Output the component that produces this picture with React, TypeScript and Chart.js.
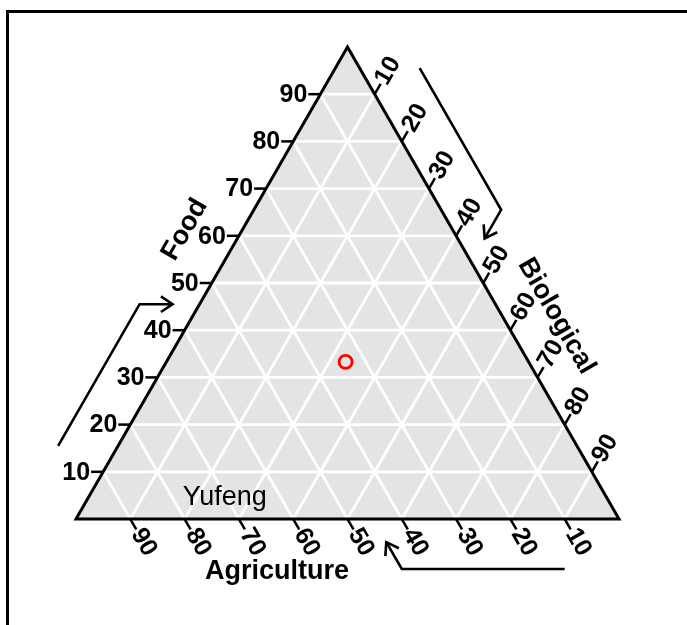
import React, { useEffect, useRef } from "react";
import { Chart, registerables } from "chart.js";

Chart.register(...registerables);

// ---- data ----
const sampleNames = ["Yufeng"];
const agriculture = [33.7];
const biological = [33.0];
const food = [33.3];
const tickValues = [10, 20, 30, 40, 50, 60, 70, 80, 90];
const gridValues = [10, 20, 30, 40, 50, 60, 70, 80, 90];
const titleAgriculture = "Agriculture";
const titleBiological = "Biological";
const titleFood = "Food";

const S3 = Math.sqrt(3) / 2;
const FONT = "'Liberation Sans', Arial, sans-serif";

function tern(a: number, b: number, f: number) {
  const t = a + b + f;
  return { x: ((b + f / 2) / t) * 100, y: (f / t) * 100 * S3 };
}

const ternaryPlugin = {
  id: "ternaryFrame",
  beforeDatasetsDraw(chart: any) {
    const ctx: CanvasRenderingContext2D = chart.ctx;
    const xs = chart.scales.x;
    const ys = chart.scales.y;
    const P = (a: number, b: number, f: number): [number, number] => {
      const p = tern(a, b, f);
      return [xs.getPixelForValue(p.x), ys.getPixelForValue(p.y)];
    };
    ctx.save();

    // outer frame (top + left)
    ctx.strokeStyle = "#000";
    ctx.lineWidth = 3;
    ctx.beginPath();
    ctx.moveTo(7.5, 625);
    ctx.lineTo(7.5, 11.5);
    ctx.lineTo(687, 11.5);
    ctx.stroke();

    const BL = P(100, 0, 0);
    const BR = P(0, 100, 0);
    const TP = P(0, 0, 100);

    // background triangle
    ctx.fillStyle = "#e4e4e4";
    ctx.beginPath();
    ctx.moveTo(BL[0], BL[1]);
    ctx.lineTo(BR[0], BR[1]);
    ctx.lineTo(TP[0], TP[1]);
    ctx.closePath();
    ctx.fill();

    // grid
    ctx.strokeStyle = "#ffffff";
    ctx.lineWidth = 2.8;
    const seg = (p: [number, number], q: [number, number]) => {
      ctx.beginPath();
      ctx.moveTo(p[0], p[1]);
      ctx.lineTo(q[0], q[1]);
      ctx.stroke();
    };
    gridValues.forEach((v) => {
      seg(P(100 - v, 0, v), P(0, 100 - v, v)); // food const
      seg(P(100 - v, v, 0), P(0, v, 100 - v)); // bio const
      seg(P(v, 100 - v, 0), P(v, 0, 100 - v)); // agri const
    });

    // outline
    ctx.strokeStyle = "#000";
    ctx.lineWidth = 3;
    ctx.lineJoin = "miter";
    ctx.beginPath();
    ctx.moveTo(BL[0], BL[1]);
    ctx.lineTo(BR[0], BR[1]);
    ctx.lineTo(TP[0], TP[1]);
    ctx.closePath();
    ctx.stroke();

    // ticks + labels
    const TL = 12;
    ctx.lineWidth = 2.5;
    ctx.fillStyle = "#000";
    ctx.font = `bold 25px ${FONT}`;
    tickValues.forEach((v) => {
      // Food (left)
      const f0 = P(100 - v, 0, v);
      const f1: [number, number] = [f0[0] - TL, f0[1]];
      seg(f0, f1);
      ctx.textAlign = "right";
      ctx.textBaseline = "middle";
      ctx.fillText(String(v), f1[0] - 1, f1[1] + 1);

      // Biological (right)
      const b0 = P(0, v, 100 - v);
      const b1: [number, number] = [b0[0] + 0.5 * TL, b0[1] - S3 * TL];
      seg(b0, b1);
      ctx.save();
      ctx.translate(b1[0] + 0.5, b1[1] - S3);
      ctx.rotate(-Math.PI / 3);
      ctx.textAlign = "left";
      ctx.textBaseline = "middle";
      ctx.fillText(String(v), 0, 0);
      ctx.restore();

      // Agriculture (bottom)
      const a0 = P(v, 100 - v, 0);
      const a1: [number, number] = [a0[0] + 0.5 * TL, a0[1] + S3 * TL];
      seg(a0, a1);
      ctx.save();
      ctx.translate(a1[0] + 0.5, a1[1] + S3);
      ctx.rotate(Math.PI / 3);
      ctx.textAlign = "left";
      ctx.textBaseline = "middle";
      ctx.fillText(String(v), 0, 0);
      ctx.restore();
    });

    // arrows
    const OFF = 52;
    const HOOK = 33;
    const arrow = (pts: [number, number][]) => {
      ctx.lineWidth = 2.6;
      ctx.lineJoin = "miter";
      ctx.beginPath();
      ctx.moveTo(pts[0][0], pts[0][1]);
      for (let i = 1; i < pts.length; i++) ctx.lineTo(pts[i][0], pts[i][1]);
      ctx.stroke();
      const e = pts[pts.length - 1];
      const s = pts[pts.length - 2];
      const ang = Math.atan2(e[1] - s[1], e[0] - s[0]);
      const hl = 14;
      const ha = (34 * Math.PI) / 180;
      ctx.beginPath();
      ctx.moveTo(e[0] - hl * Math.cos(ang - ha), e[1] - hl * Math.sin(ang - ha));
      ctx.lineTo(e[0], e[1]);
      ctx.lineTo(e[0] - hl * Math.cos(ang + ha), e[1] - hl * Math.sin(ang + ha));
      ctx.stroke();
    };
    const add = (p: [number, number], dx: number, dy: number): [number, number] => [p[0] + dx, p[1] + dy];
    // food arrow
    {
      const n = [-S3 * OFF, -0.5 * OFF];
      const p0 = add(P(90, 0, 10), n[0], n[1]);
      const p1 = add(P(60, 0, 40), n[0], n[1]);
      arrow([p0, p1, add(p1, HOOK, 0)]);
    }
    // bio arrow
    {
      const n = [S3 * OFF, -0.5 * OFF];
      const p0 = add(P(0, 10, 90), n[0], n[1]);
      const p1 = add(P(0, 40, 60), n[0], n[1]);
      arrow([p0, p1, add(p1, -0.5 * HOOK, S3 * HOOK)]);
    }
    // agri arrow
    {
      const p0 = add(P(10, 90, 0), 0, 50);
      const p1 = add(P(40, 60, 0), 0, 50);
      arrow([p0, p1, add(p1, -0.5 * 31, -S3 * 31)]);
    }

    // titles
    ctx.font = `bold 27px ${FONT}`;
    ctx.textAlign = "center";
    ctx.textBaseline = "middle";
    {
      const p = add(P(44, 0, 56), -S3 * 50, -0.5 * 50);
      ctx.save();
      ctx.translate(p[0], p[1]);
      ctx.rotate(-Math.PI / 3);
      ctx.fillText(titleFood, 0, 0);
      ctx.restore();
    }
    {
      const p = add(P(0, 62, 38), S3 * 47, -0.5 * 47);
      ctx.save();
      ctx.translate(p[0], p[1]);
      ctx.rotate(Math.PI / 3);
      ctx.fillText(titleBiological, 0, 0);
      ctx.restore();
    }
    {
      const p = add(P(63, 37, 0), 0, 53);
      ctx.fillText(titleAgriculture, p[0], p[1]);
    }

    // sample label
    ctx.font = `27px ${FONT}`;
    ctx.textAlign = "center";
    ctx.textBaseline = "middle";
    ctx.fillText(sampleNames[0], xs.getPixelForValue(27.4), ys.getPixelForValue(4.0));

    ctx.restore();
  },
};

export default function App() {
  const ref = useRef<HTMLCanvasElement | null>(null);
  useEffect(() => {
    if (!ref.current) return;
    const pts = sampleNames.map((name, i) => tern(agriculture[i], biological[i], food[i]));
    const chart = new Chart(ref.current, {
      type: "scatter",
      data: {
        datasets: [
          {
            label: sampleNames[0],
            data: pts,
            pointStyle: "circle",
            pointRadius: 6.5,
            pointBorderWidth: 2.8,
            pointBorderColor: "#ff0000",
            pointBackgroundColor: "rgba(0,0,0,0)",
            clip: false as any,
          },
        ],
      },
      options: {
        responsive: false,
        animation: false,
        devicePixelRatio: 1,
        layout: { padding: { left: 76, right: 68, top: 47, bottom: 106 } },
        scales: {
          x: { type: "linear", min: 0, max: 100, display: false },
          y: { type: "linear", min: 0, max: 100 * S3, display: false },
        },
        plugins: { legend: { display: false }, tooltip: { enabled: false } },
      },
      plugins: [ternaryPlugin],
    });
    return () => chart.destroy();
  }, []);
  return (
    <div style={{ position: "absolute", left: 0, top: 0, width: 687, height: 625, background: "#fff" }}>
      <canvas ref={ref} width={687} height={625} style={{ display: "block" }} />
    </div>
  );
}
